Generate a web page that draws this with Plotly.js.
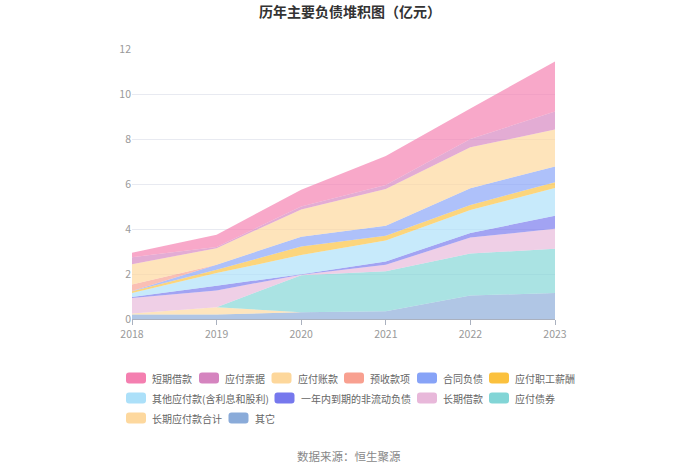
<!DOCTYPE html>
<html>
<head>
<meta charset="utf-8">
<script src="https://cdn.plot.ly/plotly-3.0.1.min.js"></script>
<style>html,body{margin:0;padding:0;background:#fff;}#chart{width:700px;height:474px;}</style>
</head>
<body>
<div id="chart"></div>
<script>
var years = [2018, 2019, 2020, 2021, 2022, 2023];

// series in legend order (top of stack first)
var seriesNames = ['短期借款', '应付票据', '应付账款', '预收款项', '合同负债', '应付职工薪酬',
  '其他应付款(含利息和股利)', '一年内到期的非流动负债', '长期借款', '应付债券', '长期应付款合计', '其它'];

var shortLoans      = [0.20, 0.55, 0.74, 1.29, 1.36, 2.22];
var notesPayable    = [0.32, 0.05, 0.13, 0.18, 0.37, 0.80];
var accountsPayable = [0.90, 0.74, 1.21, 1.64, 1.82, 1.64];
var advances        = [0.28, 0.00, 0.00, 0.00, 0.00, 0.00];
var contractLiab    = [0.02, 0.22, 0.44, 0.44, 0.74, 0.70];
var payroll         = [0.07, 0.15, 0.38, 0.21, 0.22, 0.26];
var otherPayables   = [0.18, 0.56, 0.85, 0.93, 1.03, 1.23];
var currentNonCur   = [0.05, 0.21, 0.02, 0.15, 0.20, 0.58];
var longLoans       = [0.68, 0.75, 0.02, 0.29, 0.71, 0.89];
var bonds           = [0.00, 0.00, 1.65, 1.77, 1.87, 1.96];
var longPayables    = [0.05, 0.32, 0.00, 0.00, 0.00, 0.00];
var others          = [0.20, 0.20, 0.30, 0.35, 1.04, 1.16];

var seriesValues = [shortLoans, notesPayable, accountsPayable, advances, contractLiab, payroll,
  otherPayables, currentNonCur, longLoans, bonds, longPayables, others];

var seriesColors = ['#f47fb0', '#d584bf', '#fdd79b', '#f8a090', '#87a3f7', '#fbc13e',
  '#ace0f9', '#7678ed', '#e8b8da', '#82d5d6', '#fdd89e', '#8aabd9'];

var yTicks = [0, 2, 4, 6, 8, 10, 12];

function rgba(hex, a) {
  var r = parseInt(hex.substr(1, 2), 16), g = parseInt(hex.substr(3, 2), 16), b = parseInt(hex.substr(5, 2), 16);
  return 'rgba(' + r + ',' + g + ',' + b + ',' + a + ')';
}

var traces = [];
for (var i = seriesNames.length - 1; i >= 0; i--) {
  traces.push({
    type: 'scatter',
    x: years,
    y: seriesValues[i],
    name: seriesNames[i],
    stackgroup: 'one',
    mode: 'none',
    fillcolor: rgba(seriesColors[i], 0.68),
    line: {width: 0},
    showlegend: false
  });
}

// layout geometry (pixels)
var W = 700, H = 474, L = 132, R = 145, T = 49, B = 155;
var pw = W - L - R, ph = H - T - B;
function px2x(px) { return (px - L) / pw; }
function py2y(py) { return (H - B - py) / ph; }

// manual legend layout
var legendRows = [[0, 1, 2, 3, 4, 5], [6, 7, 8, 9], [10, 11]];
var legendRowY = [378, 398, 418];
var legendColX = [[126, 199, 271.5, 344, 417, 489], [126, 274.5, 417, 489], [126, 228.5]];

var shapes = [], annotations = [];
var sw = 20, sh = 11, rr = 3;
var hw = sw / 2, hh = sh / 2;
var rectPath = 'M ' + (-hw + rr) + ' ' + (-hh) + ' L ' + (hw - rr) + ' ' + (-hh) +
  ' Q ' + hw + ' ' + (-hh) + ' ' + hw + ' ' + (-hh + rr) + ' L ' + hw + ' ' + (hh - rr) +
  ' Q ' + hw + ' ' + hh + ' ' + (hw - rr) + ' ' + hh + ' L ' + (-hw + rr) + ' ' + hh +
  ' Q ' + (-hw) + ' ' + hh + ' ' + (-hw) + ' ' + (hh - rr) + ' L ' + (-hw) + ' ' + (-hh + rr) +
  ' Q ' + (-hw) + ' ' + (-hh) + ' ' + (-hw + rr) + ' ' + (-hh) + ' Z';

legendRows.forEach(function (row, ri) {
  row.forEach(function (si, ci) {
    var x0 = legendColX[ri][ci];
    var yc = legendRowY[ri];
    shapes.push({
      type: 'path', xref: 'paper', yref: 'paper',
      xsizemode: 'pixel', ysizemode: 'pixel',
      xanchor: px2x(x0 + hw), yanchor: py2y(yc),
      path: rectPath,
      fillcolor: seriesColors[si], line: {width: 0}
    });
    annotations.push({
      xref: 'paper', yref: 'paper',
      x: px2x(x0 + 24), y: py2y(yc),
      xanchor: 'left', yanchor: 'middle',
      text: seriesNames[si], showarrow: false,
      font: {size: 10, color: '#666'}
    });
  });
});

annotations.push({
  xref: 'paper', yref: 'paper', x: px2x(349), y: py2y(456),
  xanchor: 'center', yanchor: 'middle', showarrow: false,
  text: '数据来源：恒生聚源', font: {size: 11.5, color: '#888'}
});

var layout = {
  width: W, height: H,
  margin: {l: L, r: R, t: T, b: B, pad: 0},
  paper_bgcolor: '#fff', plot_bgcolor: '#fff',
  font: {family: '"Noto Sans CJK SC", "Noto Sans", sans-serif', color: '#666'},
  title: {
    text: '<b>历年主要负债堆积图（亿元）</b>',
    x: 0.5, xanchor: 'center', y: 1 - 12 / H, yanchor: 'middle',
    font: {size: 14, color: '#333'}
  },
  showlegend: false,
  xaxis: {
    range: [2018, 2023], tickvals: years, ticktext: years.map(String),
    showgrid: false, zeroline: false, showline: true, linecolor: '#aab1bf', linewidth: 1,
    ticks: 'outside', ticklen: 5, tickcolor: '#aab1bf',
    tickfont: {size: 10.5, color: '#999'}, fixedrange: true
  },
  yaxis: {
    range: [0, 12], tickvals: yTicks, ticktext: yTicks.map(String),
    showgrid: true, gridcolor: '#e8eaf1', gridwidth: 1, zeroline: false, showline: false,
    ticks: '', tickfont: {size: 10.5, color: '#999'}, fixedrange: true
  },
  shapes: shapes,
  annotations: annotations
};

Plotly.newPlot('chart', traces, layout, {displayModeBar: false, staticPlot: true});
</script>
</body>
</html>
